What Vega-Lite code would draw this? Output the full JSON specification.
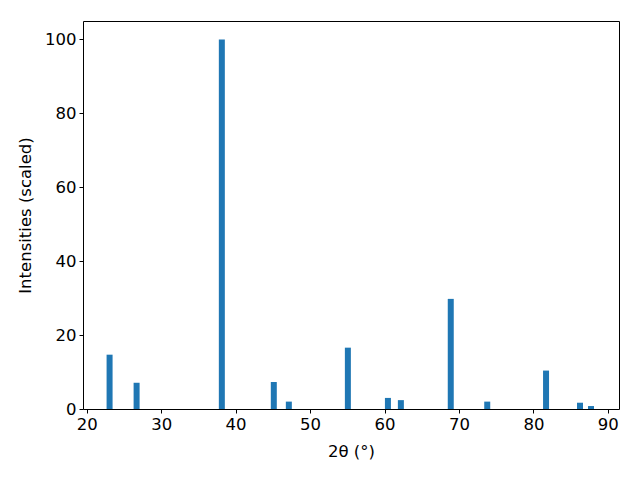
{
  "$schema": "https://vega.github.io/schema/vega-lite/v6.json",
  "width": 536,
  "height": 388,
  "autosize": {"type": "none"},
  "padding": {"left": 83, "top": 21, "right": 21, "bottom": 71},
  "background": "white",
  "config": {
    "view": {"stroke": "black", "strokeWidth": 1},
    "font": "DejaVu Sans",
    "axis": {
      "grid": false,
      "domain": false,
      "ticks": true,
      "tickColor": "black",
      "tickSize": 4,
      "tickWidth": 1,
      "labelFont": "DejaVu Sans",
      "labelFontSize": 16.5,
      "labelColor": "black",
      "labelPadding": 3,
      "titleFont": "DejaVu Sans",
      "titleFontSize": 16.5,
      "titleFontWeight": "normal",
      "titleColor": "black"
    }
  },
  "data": {
    "values": [
      {"two_theta": 23.07, "intensity": 14.7},
      {"two_theta": 26.7, "intensity": 7.1},
      {"two_theta": 38.15, "intensity": 100},
      {"two_theta": 45.13, "intensity": 7.3},
      {"two_theta": 47.15, "intensity": 2.0},
      {"two_theta": 55.08, "intensity": 16.6},
      {"two_theta": 60.46, "intensity": 3.0},
      {"two_theta": 62.2, "intensity": 2.4},
      {"two_theta": 68.9, "intensity": 29.8},
      {"two_theta": 73.8, "intensity": 2.0},
      {"two_theta": 81.7, "intensity": 10.4},
      {"two_theta": 86.26, "intensity": 1.7},
      {"two_theta": 87.74, "intensity": 0.8}
    ]
  },
  "mark": {"type": "bar", "size": 6, "color": "#1f77b4"},
  "encoding": {
    "x": {
      "field": "two_theta",
      "type": "quantitative",
      "scale": {"domain": [19.5, 91.5], "nice": false, "zero": false, "padding": 0},
      "axis": {"values": [20, 30, 40, 50, 60, 70, 80, 90], "title": "2θ (°)", "titlePadding": 11, "labelFlush": false}
    },
    "y": {
      "field": "intensity",
      "type": "quantitative",
      "scale": {"domain": [0, 105], "nice": false, "padding": 0},
      "axis": {"values": [0, 20, 40, 60, 80, 100], "title": "Intensities (scaled)", "titlePadding": 11, "labelFlush": false}
    }
  }
}
